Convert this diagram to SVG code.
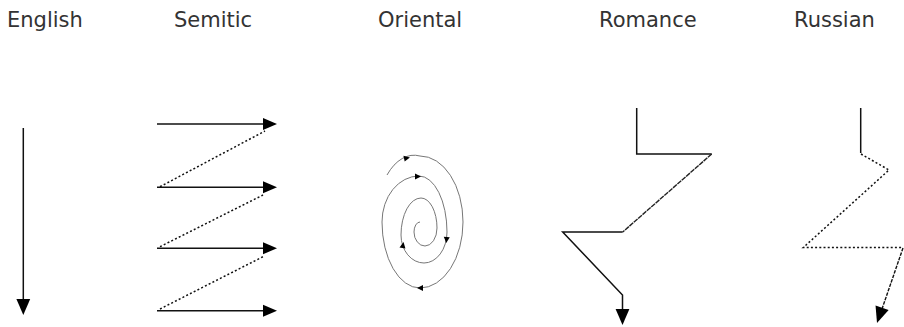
<svg xmlns="http://www.w3.org/2000/svg" width="904" height="327" viewBox="0 0 904 327">
<style>
.lbl{font-family:"DejaVu Sans","Liberation Sans",sans-serif;font-size:21px;fill:#333}
.ln{fill:none;stroke:#111;stroke-width:1.5}
.dot{fill:none;stroke:#111;stroke-width:1.5;stroke-dasharray:2 2.2}
.dash{fill:none;stroke:#111;stroke-width:1.4;stroke-dasharray:3.5 1.2}
.rough{fill:none;stroke:#222;stroke-width:1.4;stroke-dasharray:5 0.8}
.head{fill:#000}
.sp{fill:none;stroke:#777;stroke-width:1}
</style>
<defs>
<path id="hr" d="M0,0 L-14,-6 L-14,6 Z"/>
<path id="sa" d="M3,0 L-3,-3 L-3,3 Z"/>
</defs>
<rect width="904" height="327" fill="#fff"/>
<g id="english">
<text class="lbl" x="7" y="26.5">English</text>
<line class="ln" x1="23.3" y1="128" x2="23.3" y2="302"/>
<use href="#hr" class="head" transform="translate(23.3,315) rotate(90) scale(1.15)"/>
</g>
<g id="semitic">
<text class="lbl" x="174" y="26.5">Semitic</text>
<g id="semitic-arrows">
<line class="ln" x1="157" y1="124" x2="266" y2="124"/>
<line class="ln" x1="157" y1="187.3" x2="266" y2="187.3"/>
<line class="ln" x1="157" y1="248.3" x2="266" y2="248.3"/>
<line class="ln" x1="157" y1="310.7" x2="266" y2="310.7"/>
<use href="#hr" class="head" transform="translate(277,124)"/>
<use href="#hr" class="head" transform="translate(277,187.3)"/>
<use href="#hr" class="head" transform="translate(277,248.3)"/>
<use href="#hr" class="head" transform="translate(277,310.7)"/>
<line class="dot" x1="160" y1="186.7" x2="265" y2="131"/>
<line class="dot" x1="160" y1="246.7" x2="263" y2="195"/>
<line class="dot" x1="160" y1="309" x2="263" y2="256.7"/>
</g>
</g>
<g id="oriental">
<text class="lbl" x="378" y="26.5">Oriental</text>
<path class="sp" d="M387,175 A38 66 0 0 1 420,156 A43 66 0 0 1 463,222 A43 66 0 0 1 420,288 A38 66 0 0 1 382,222 A37 46 0 0 1 419,176 A28 56 0 0 1 447,232 A23 31 0 0 1 424,263 A23 28 0 0 1 401,235 A20 37 0 0 1 421,198 A16 30 0 0 1 437,228 A12 18 0 0 1 425,246 A11 14 0 0 1 414,232 A6 10 0 0 1 420,222"/>
<use href="#sa" class="head" transform="translate(407,158) rotate(-12)"/>
<use href="#sa" class="head" transform="translate(418,176.5)"/>
<use href="#sa" class="head" transform="translate(446.5,240) rotate(95)"/>
<use href="#sa" class="head" transform="translate(403,245) rotate(-80)"/>
<use href="#sa" class="head" transform="translate(420,288) rotate(180)"/>
</g>
<g id="romance">
<text class="lbl" x="599" y="26.5">Romance</text>
<polyline class="ln" points="636.7,108 636.7,154 711.7,154"/>
<line class="rough" x1="711.7" y1="154" x2="622.7" y2="232"/>
<polyline class="ln" points="622.7,232 562.7,232 622.5,295 622.5,310"/>
<use href="#hr" class="head" transform="translate(622.5,325) rotate(90) scale(1.15)"/>
</g>
<g id="russian">
<text class="lbl" x="794" y="26.5">Russian</text>
<line class="ln" x1="860.7" y1="108" x2="860.7" y2="153"/>
<polyline class="dot" points="861,154 889,170 803.3,247.5 903,247.5"/>
<line class="dash" x1="903" y1="248" x2="882" y2="309"/>
<use href="#hr" class="head" transform="translate(877,323) rotate(108.4) scale(1.15)"/>
</g>
</svg>
